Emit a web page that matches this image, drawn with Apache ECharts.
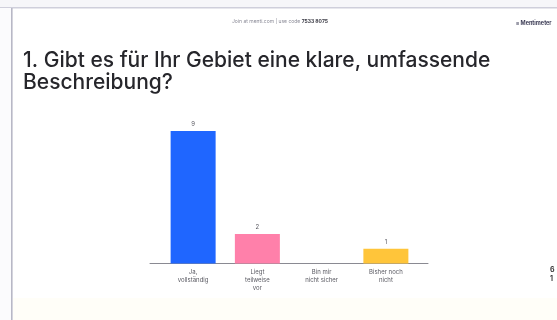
<!DOCTYPE html>
<html>
<head>
<meta charset="utf-8">
<script src="https://cdn.jsdelivr.net/npm/echarts@6/dist/echarts.min.js"></script>
<style>
  html, body { margin: 0; padding: 0; background: #ffffff; }
  #chart { width: 557px; height: 320px; }
</style>
</head>
<body>
<div id="chart"></div>
<script>
// Survey answers and vote counts
const categories = ['Ja,\nvollständig', 'Liegt\nteilweise\nvor', 'Bin mir\nnicht sicher', 'Bisher noch\nnicht'];
const votes = [9, 2, 0, 1];
const barColors = ['#1f66ff', '#ff80aa', '#ffffff', '#ffc53a'];

const titleText = '1. Gibt es für Ihr Gebiet eine klare, umfassende\nBeschreibung?';
const joinText = 'Join at menti.com | use code ';
const joinCode = '7533 8075';

const chart = echarts.init(document.getElementById('chart'), null, { renderer: 'canvas' });

chart.setOption({
  animation: false,
  backgroundColor: '#ffffff',
  title: {
    text: titleText,
    left: 23,
    top: 50,
    padding: 0,
    textStyle: {
      fontFamily: 'Inter, "Noto Sans", sans-serif',
      fontSize: 21,
      fontWeight: 500,
      color: '#26262b',
      lineHeight: 22
    }
  },
  graphic: [
    // slide frame
    { type: 'rect', shape: { x: 0, y: 0, width: 557, height: 7 }, style: { fill: '#f6f6f9' }, silent: true },
    { type: 'rect', shape: { x: 0, y: 7, width: 557, height: 1.5 }, style: { fill: '#cfcfdb' }, silent: true },
    { type: 'rect', shape: { x: 0, y: 8, width: 11, height: 312 }, style: { fill: '#fbfbfd' }, silent: true },
    { type: 'rect', shape: { x: 11, y: 8, width: 1.6, height: 312 }, style: { fill: '#b8b8c6' }, silent: true },
    { type: 'rect', shape: { x: 13, y: 298, width: 544, height: 22 }, style: { fill: '#fffef8' }, silent: true },
    // join bar
    {
      type: 'text', left: 232, top: 19,
      style: {
        text: '{a|' + joinText + '}{b|' + joinCode + '}',
        rich: {
          a: { fontSize: 5, fill: '#8a8a96', fontFamily: 'Inter, sans-serif' },
          b: { fontSize: 5, fill: '#3a3a44', fontWeight: 'bold', fontFamily: 'Inter, sans-serif' }
        }
      }
    },
    // brand mark
    {
      type: 'text', left: 516, top: 20,
      style: { text: '≡ Mentimeter', fontSize: 5.5, fontWeight: 'bold', fill: '#3c3c55', fontFamily: 'Inter, sans-serif' }
    },
    // participant counter
    {
      type: 'text', left: 550, top: 265,
      style: { text: '6\n1', fontSize: 7, fontWeight: 'bold', fill: '#3a3a3a', lineHeight: 9, fontFamily: 'Inter, sans-serif' }
    }
  ],
  grid: [
    { left: 161, width: 257, top: 131, bottom: 56.5 },
    { left: 150, width: 278, top: 131, bottom: 56.5 }
  ],
  xAxis: [
    {
      type: 'category',
      gridIndex: 0,
      data: categories,
      axisLine: { show: false },
      axisTick: { show: false },
      axisLabel: {
        interval: 0,
        margin: 5,
        fontSize: 6,
        lineHeight: 8,
        color: '#5a5a62',
        fontFamily: 'Inter, sans-serif'
      }
    },
    {
      type: 'value',
      gridIndex: 1,
      min: 0, max: 1,
      axisLine: { show: true, lineStyle: { color: '#8a8a92', width: 1 } },
      axisTick: { show: false },
      axisLabel: { show: false },
      splitLine: { show: false }
    }
  ],
  yAxis: [
    { type: 'value', gridIndex: 0, min: 0, max: 9, show: false, splitLine: { show: false } },
    { type: 'value', gridIndex: 1, min: 0, max: 9, show: false, splitLine: { show: false } }
  ],
  series: [
    {
      type: 'bar',
      xAxisIndex: 0,
      yAxisIndex: 0,
      barWidth: 45,
      data: votes.map((v, i) => ({ value: v, itemStyle: { color: barColors[i] } })),
      label: {
        show: true,
        position: 'top',
        distance: 4,
        fontSize: 6,
        color: '#5a5a62',
        fontFamily: 'Inter, sans-serif',
        formatter: (p) => (p.value > 0 ? String(p.value) : '')
      }
    }
  ]
});
</script>
</body>
</html>
